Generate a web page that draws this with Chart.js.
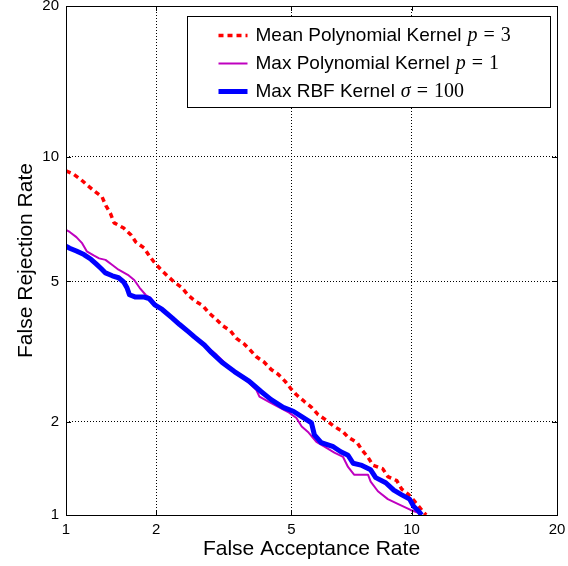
<!DOCTYPE html>
<html>
<head>
<meta charset="utf-8">
<script src="https://cdn.jsdelivr.net/npm/chart.js@4/dist/chart.umd.min.js"></script>
<style>
  html, body { margin: 0; padding: 0; background: #ffffff; }
  #wrap { width: 568px; height: 566px; }
</style>
</head>
<body>
<div id="wrap"><canvas id="c" width="568" height="566"></canvas></div>
<script>
// ---------------- data (percent) ----------------
const xTicks = [1, 2, 5, 10, 20];
const yTicks = [1, 2, 5, 10, 20];

const seriesNames = ['Mean Polynomial Kernel', 'Max Polynomial Kernel', 'Max RBF Kernel'];
const seriesSymbols = ['p', 'p', 'σ'];
const seriesParams = ['3', '1', '100'];

const meanPolyFAR = [1.0, 1.06, 1.13, 1.19, 1.26, 1.33, 1.37, 1.42, 1.46, 1.57, 1.66, 1.72, 1.83, 1.90, 1.98, 2.06, 2.17, 2.28, 2.41, 2.51, 2.64, 2.79, 2.91, 3.05, 3.2, 3.37, 3.5, 3.68, 3.83, 4.0, 4.21, 4.4, 4.6, 4.81, 4.99, 5.16, 5.42, 5.66, 5.89, 6.18, 6.45, 6.68, 6.8, 7.03, 7.41, 7.62, 7.87, 8.1, 8.56, 8.8, 9.24, 9.49, 9.85, 10.17, 10.39, 10.66, 10.8];
const meanPolyFRR = [9.3, 9.15, 8.87, 8.6, 8.33, 8.1, 7.72, 7.39, 7.02, 6.82, 6.56, 6.30, 6.09, 5.82, 5.58, 5.39, 5.17, 4.98, 4.81, 4.61, 4.44, 4.31, 4.12, 3.97, 3.8, 3.68, 3.51, 3.39, 3.26, 3.11, 3.0, 2.86, 2.77, 2.64, 2.51, 2.41, 2.30, 2.21, 2.10, 2.02, 1.94, 1.89, 1.87, 1.79, 1.72, 1.63, 1.55, 1.46, 1.42, 1.34, 1.30, 1.22, 1.17, 1.11, 1.07, 1.02, 1.0];

const maxPolyFAR = [1.0, 1.03, 1.087, 1.135, 1.18, 1.25, 1.30, 1.366, 1.44, 1.51, 1.62, 1.70, 1.77, 1.85, 1.92, 2.01, 2.17, 2.33, 2.49, 2.68, 2.87, 3.07, 3.29, 3.5, 3.75, 4.0, 4.08, 4.35, 4.93, 5.16, 5.33, 5.56, 5.83, 6.18, 6.49, 6.83, 7.03, 7.28, 7.88, 8.0, 8.33, 8.8, 9.29, 9.95, 10.33, 10.45];
const maxPolyFRR = [6.75, 6.67, 6.48, 6.27, 5.97, 5.82, 5.73, 5.68, 5.51, 5.36, 5.2, 5.04, 4.81, 4.61, 4.52, 4.31, 4.1, 3.9, 3.68, 3.49, 3.32, 3.15, 2.95, 2.80, 2.65, 2.49, 2.38, 2.29, 2.13, 2.05, 1.93, 1.85, 1.73, 1.66, 1.60, 1.55, 1.44, 1.36, 1.36, 1.29, 1.20, 1.13, 1.09, 1.04, 1.02, 1.0];

const maxRbfFAR = [1.0, 1.03, 1.087, 1.154, 1.22, 1.27, 1.32, 1.366, 1.44, 1.51, 1.57, 1.61, 1.64, 1.71, 1.82, 1.9, 1.98, 2.09, 2.25, 2.37, 2.52, 2.63, 2.82, 2.96, 3.18, 3.46, 3.82, 4.13, 4.4, 4.75, 5.06, 5.33, 5.66, 5.76, 6.0, 6.45, 6.74, 7.03, 7.24, 7.57, 8.0, 8.23, 8.7, 9.09, 9.47, 9.9, 10.11, 10.39, 10.55];
const maxRbfFRR = [6.15, 6.08, 5.98, 5.86, 5.70, 5.55, 5.40, 5.26, 5.17, 5.11, 4.98, 4.81, 4.61, 4.55, 4.55, 4.5, 4.33, 4.21, 3.99, 3.83, 3.66, 3.54, 3.36, 3.2, 3.0, 2.82, 2.64, 2.46, 2.33, 2.21, 2.15, 2.07, 1.98, 1.82, 1.72, 1.67, 1.61, 1.57, 1.48, 1.46, 1.41, 1.33, 1.28, 1.21, 1.17, 1.13, 1.07, 1.03, 1.0];

// ---------------- normal deviate (DET) scale ----------------
function probit(p) {
  const a = [-3.969683028665376e+01, 2.209460984245205e+02, -2.759285104469687e+02, 1.383577518672690e+02, -3.066479806614716e+01, 2.506628277459239e+00];
  const b = [-5.447609879822406e+01, 1.615858368580409e+02, -1.556989798598866e+02, 6.680131188771972e+01, -1.328068155288572e+01];
  const c = [-7.784894002430293e-03, -3.223964580411365e-01, -2.400758277161838e+00, -2.549732539343734e+00, 4.374664141464968e+00, 2.938163982698783e+00];
  const d = [7.784695709041462e-03, 3.224671290700398e-01, 2.445134137142996e+00, 3.754408661907416e+00];
  const pl = 0.02425, ph = 1 - pl;
  let q, r;
  if (p < pl) {
    q = Math.sqrt(-2 * Math.log(p));
    return (((((c[0]*q+c[1])*q+c[2])*q+c[3])*q+c[4])*q+c[5]) / ((((d[0]*q+d[1])*q+d[2])*q+d[3])*q+1);
  }
  if (p <= ph) {
    q = p - 0.5; r = q*q;
    return (((((a[0]*r+a[1])*r+a[2])*r+a[3])*r+a[4])*r+a[5])*q / (((((b[0]*r+b[1])*r+b[2])*r+b[3])*r+b[4])*r+1);
  }
  q = Math.sqrt(-2 * Math.log(1 - p));
  return -(((((c[0]*q+c[1])*q+c[2])*q+c[3])*q+c[4])*q+c[5]) / ((((d[0]*q+d[1])*q+d[2])*q+d[3])*q+1);
}
function normCdf(z) {
  const t = 1 / (1 + 0.3275911 * Math.abs(z) / Math.SQRT2);
  const y = 1 - (((((1.061405429*t - 1.453152027)*t) + 1.421413741)*t - 0.284496736)*t + 0.254829592) * t * Math.exp(-z*z/2);
  return z >= 0 ? (1 + y) / 2 : (1 - y) / 2;
}
const TICKS = { x: xTicks, y: yTicks };

class ProbitScale extends Chart.Scale {
  parse(raw) {
    if (raw === null || raw === undefined) return null;
    const v = +raw;
    return (isFinite(v) && v > 0 && v < 100) ? v : null;
  }
  determineDataLimits() {
    this.min = this.options.min;
    this.max = this.options.max;
  }
  buildTicks() {
    return TICKS[this.id].map(v => ({ value: v }));
  }
  getLabelForValue(v) { return String(v); }
  configure() {
    super.configure();
    this._zS = probit(this.min / 100);
    this._zR = probit(this.max / 100) - this._zS;
  }
  getPixelForValue(v) {
    if (v === null || v === undefined || isNaN(v)) return NaN;
    return this.getPixelForDecimal((probit(v / 100) - this._zS) / this._zR);
  }
  getValueForPixel(p) {
    return normCdf(this._zS + this.getDecimalForPixel(p) * this._zR) * 100;
  }
}
ProbitScale.id = 'probit';
ProbitScale.defaults = {};
Chart.register(ProbitScale);

function zip(xs, ys) { return xs.map((x, i) => ({ x: x, y: ys[i] })); }

const SANS = "'Liberation Sans', Arial, Helvetica, sans-serif";
const SERIF = "'Liberation Serif', 'Times New Roman', serif";

const colors = ['#ff0000', '#bf00bf', '#0000ff'];
const widths = [3.5, 2, 5];
const dashes = [[5, 4], [], []];

const frameLegend = {
  id: 'frameLegend',
  afterDraw(chart) {
    const ctx = chart.ctx;
    const a = chart.chartArea;
    const xs = chart.scales.x, ys = chart.scales.y;
    ctx.save();
    ctx.strokeStyle = '#000';
    ctx.lineWidth = 1;
    ctx.setLineDash([]);
    // frame
    ctx.strokeRect(Math.round(a.left) + 0.5, Math.round(a.top) + 0.5, Math.round(a.right - a.left), Math.round(a.bottom - a.top));
    // inward tick marks
    const tl = 5;
    ctx.beginPath();
    xTicks.forEach(v => {
      const px = Math.round(xs.getPixelForValue(v)) + 0.5;
      ctx.moveTo(px, a.bottom); ctx.lineTo(px, a.bottom - tl);
      ctx.moveTo(px, a.top); ctx.lineTo(px, a.top + tl);
    });
    yTicks.forEach(v => {
      const py = Math.round(ys.getPixelForValue(v)) + 0.5;
      ctx.moveTo(a.left, py); ctx.lineTo(a.left + tl, py);
      ctx.moveTo(a.right, py); ctx.lineTo(a.right - tl, py);
    });
    ctx.stroke();

    // legend box
    const bw = 363, bh = 91;
    const bx = Math.round(a.right - 7 - bw) + 0.5;
    const by = Math.round(a.top + 10) + 0.5;
    ctx.fillStyle = '#fff';
    ctx.fillRect(bx, by, bw, bh);
    ctx.strokeRect(bx, by, bw, bh);
    const rowH = 28;
    for (let i = 0; i < seriesNames.length; i++) {
      const cy = by + 19 + i * rowH;
      ctx.save();
      ctx.strokeStyle = colors[i];
      ctx.lineWidth = widths[i];
      ctx.setLineDash(dashes[i]);
      ctx.beginPath();
      ctx.moveTo(bx + 31, cy);
      ctx.lineTo(bx + 60, cy);
      ctx.stroke();
      ctx.restore();
      ctx.fillStyle = '#000';
      ctx.textBaseline = 'middle';
      ctx.textAlign = 'left';
      ctx.font = '19px ' + SANS;
      let tx = bx + 68;
      ctx.fillText(seriesNames[i], tx, cy);
      tx += ctx.measureText(seriesNames[i]).width + 6;
      ctx.font = 'italic 20px ' + SERIF;
      ctx.fillText(seriesSymbols[i], tx, cy);
      tx += ctx.measureText(seriesSymbols[i]).width + 6;
      ctx.font = '20px ' + SERIF;
      ctx.fillText('=', tx, cy);
      tx += ctx.measureText('=').width + 6;
      ctx.fillText(seriesParams[i], tx, cy);
    }
    ctx.restore();
  }
};

const lineDs = (label, xs, ys, i, order) => ({
  label: label,
  data: zip(xs, ys),
  borderColor: colors[i],
  backgroundColor: colors[i],
  borderWidth: widths[i],
  borderDash: dashes[i],
  borderCapStyle: 'butt',
  borderJoinStyle: 'round',
  pointRadius: 0,
  tension: 0,
  fill: false,
  order: order
});

new Chart(document.getElementById('c'), {
  type: 'line',
  data: {
    datasets: [
      lineDs(seriesNames[0], meanPolyFAR, meanPolyFRR, 0, 2),
      lineDs(seriesNames[1], maxPolyFAR, maxPolyFRR, 1, 1),
      lineDs(seriesNames[2], maxRbfFAR, maxRbfFRR, 2, 0)
    ]
  },
  options: {
    responsive: false,
    devicePixelRatio: 1,
    animation: false,
    layout: { padding: { top: 6, right: 11, left: 0, bottom: 0 } },
    plugins: {
      legend: { display: false },
      tooltip: { enabled: false }
    },
    scales: {
      x: {
        type: 'probit',
        position: 'bottom',
        min: 1, max: 20,
        grid: { color: '#000', lineWidth: 1, drawTicks: false },
        border: { display: false, dash: [1, 2] },
        ticks: { color: '#000', font: { family: SANS, size: 15 }, padding: 6, maxRotation: 0, autoSkip: false },
        title: { display: true, text: 'False Acceptance Rate', color: '#000', font: { family: SANS, size: 21 }, padding: { top: 0, bottom: 4 } },
        afterFit(s) { s.height = 51; s.paddingLeft = 0; s.paddingRight = 0; }
      },
      y: {
        type: 'probit',
        position: 'left',
        min: 1, max: 20,
        grid: { color: '#000', lineWidth: 1, drawTicks: false },
        border: { display: false, dash: [1, 2] },
        ticks: { color: '#000', font: { family: SANS, size: 15 }, padding: 7, autoSkip: false },
        title: { display: true, text: 'False Rejection Rate', color: '#000', font: { family: SANS, size: 21 }, padding: { top: 14, bottom: 0 } },
        afterFit(s) { s.width = 66; s.paddingTop = 0; s.paddingBottom = 0; }
      }
    }
  },
  plugins: [frameLegend]
});
</script>
</body>
</html>
